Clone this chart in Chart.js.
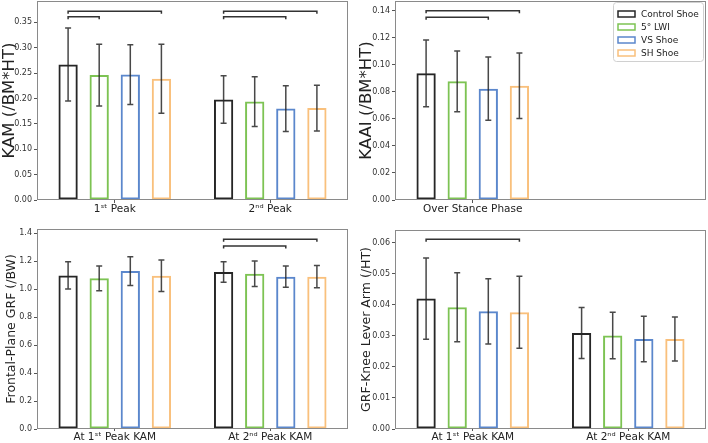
<!DOCTYPE html>
<html>
<head>
<meta charset="utf-8">
<script src="https://cdn.jsdelivr.net/npm/chart.js@4/dist/chart.umd.min.js"></script>
<style>
  html, body { margin: 0; padding: 0; background: #fff; }
  #wrap { position: relative; width: 708px; height: 443px; overflow: hidden; }
  .panel { position: absolute; }
</style>
</head>
<body>
<div id="wrap">
  <div class="panel" style="left:0;top:0;width:354px;height:222px"><canvas id="kamChart"></canvas></div>
  <div class="panel" style="left:354px;top:0;width:354px;height:222px"><canvas id="kaaiChart"></canvas></div>
  <div class="panel" style="left:0;top:222px;width:354px;height:221px"><canvas id="grfChart"></canvas></div>
  <div class="panel" style="left:354px;top:222px;width:354px;height:221px"><canvas id="leverChart"></canvas></div>
</div>
<script>
// Conditions (one dataset each)
const shoes = ['Control Shoe', '5° LWI', 'VS Shoe', 'SH Shoe'];
const shoeColors = ['#262626', '#7dc353', '#5b87cc', '#f9c07c'];

// KAM (/BM*HT)
const kamLabels = ['1ˢᵗ Peak', '2ⁿᵈ Peak'];
const kamMean = [[0.267, 0.198], [0.246, 0.194], [0.247, 0.180], [0.239, 0.181]];
const kamSd = [[0.072, 0.047], [0.061, 0.049], [0.059, 0.045], [0.068, 0.045]];
const kamTicks = [0, 0.05, 0.10, 0.15, 0.20, 0.25, 0.30, 0.35];
// [category, from shoe, to shoe, height]
const kamBrackets = [[0, 0, 3, 0.372], [0, 0, 1, 0.361], [1, 0, 3, 0.372], [1, 0, 2, 0.361]];

// KAAI (/BM*HT)
const kaaiLabels = ['Over Stance Phase', ''];
const kaaiMean = [[0.0937, null], [0.0878, null], [0.0823, null], [0.0845, null]];
const kaaiSd = [[0.0247, null], [0.0225, null], [0.0234, null], [0.0243, null]];
const kaaiTicks = [0, 0.02, 0.04, 0.06, 0.08, 0.10, 0.12, 0.14];
const kaaiBrackets = [[0, 0, 3, 0.140], [0, 0, 2, 0.1351]];

// Frontal-plane GRF (/BW)
const grfLabels = ['At 1ˢᵗ Peak KAM', 'At 2ⁿᵈ Peak KAM'];
const grfMean = [[1.097, 1.121], [1.076, 1.109], [1.128, 1.088], [1.095, 1.088]];
const grfSd = [[0.097, 0.073], [0.088, 0.091], [0.103, 0.076], [0.113, 0.079]];
const grfTicks = [0, 0.2, 0.4, 0.6, 0.8, 1.0, 1.2, 1.4];
const grfBrackets = [[1, 0, 3, 1.355], [1, 0, 2, 1.307]];

// GRF-knee lever arm (/HT)
const leverLabels = ['At 1ˢᵗ Peak KAM', 'At 2ⁿᵈ Peak KAM'];
const leverMean = [[0.0420, 0.0309], [0.0392, 0.0301], [0.0379, 0.0290], [0.0376, 0.0290]];
const leverSd = [[0.0131, 0.0082], [0.0111, 0.0075], [0.0105, 0.0073], [0.0116, 0.0071]];
const leverTicks = [0, 0.01, 0.02, 0.03, 0.04, 0.05, 0.06];
const leverBrackets = [[0, 0, 3, 0.0611]];

const FONT = "'DejaVu Sans', sans-serif";

// error bars, significance brackets, frame and (optionally) the legend box
const overlay = {
  id: 'overlay',
  afterDatasetsDraw(chart, args, opts) {
    const ctx = chart.ctx;
    const ys = chart.scales.y;
    const area = chart.chartArea;
    ctx.save();

    // error bars
    ctx.strokeStyle = 'rgba(40,40,40,0.85)';
    ctx.lineWidth = 1.5;
    chart.data.datasets.forEach((ds, i) => {
      chart.getDatasetMeta(i).data.forEach((bar, j) => {
        const m = ds.data[j];
        if (m == null) return;
        const top = ys.getPixelForValue(m + ds.sd[j]);
        const bot = ys.getPixelForValue(m - ds.sd[j]);
        ctx.beginPath();
        ctx.moveTo(bar.x, top); ctx.lineTo(bar.x, bot);
        ctx.moveTo(bar.x - 3, top); ctx.lineTo(bar.x + 3, top);
        ctx.moveTo(bar.x - 3, bot); ctx.lineTo(bar.x + 3, bot);
        ctx.stroke();
      });
    });

    // brackets
    ctx.strokeStyle = '#333';
    (opts.brackets || []).forEach(([cat, a, b, v]) => {
      const x1 = chart.getDatasetMeta(a).data[cat].x;
      const x2 = chart.getDatasetMeta(b).data[cat].x;
      const y = ys.getPixelForValue(v);
      ctx.beginPath();
      ctx.moveTo(x1, y + 2.5); ctx.lineTo(x1, y); ctx.lineTo(x2, y); ctx.lineTo(x2, y + 2.5);
      ctx.stroke();
    });

    // axes frame
    ctx.strokeStyle = '#8a8a8a';
    ctx.lineWidth = 1;
    ctx.strokeRect(area.left + 0.5, area.top + 0.5, area.right - area.left - 1, area.bottom - area.top - 1);

    // legend
    if (opts.legend) {
      const bw = 90, bh = 59;
      const bx = area.right - bw - 3, by = area.top + 1;
      ctx.fillStyle = 'rgba(255,255,255,0.9)';
      ctx.strokeStyle = '#d0d0d0';
      ctx.beginPath();
      ctx.roundRect(bx + 0.5, by + 0.5, bw, bh, 3);
      ctx.fill(); ctx.stroke();
      ctx.font = '9px ' + FONT;
      ctx.textBaseline = 'middle';
      ctx.textAlign = 'left';
      chart.data.datasets.forEach((ds, i) => {
        const cy = by + 12 + i * 13;
        ctx.strokeStyle = ds.borderColor;
        ctx.lineWidth = 1.5;
        ctx.strokeRect(bx + 5, cy - 3, 17, 6);
        ctx.fillStyle = '#222';
        ctx.fillText(ds.label, bx + 28, cy + 0.5);
      });
    }
    ctx.restore();
  }
};

function createChart(id, labels, means, sds, ticks, yMax, decimals, yTitle, titleSize, brackets, box) {
  const ctx = document.getElementById(id).getContext('2d');
  return new Chart(ctx, {
    type: 'bar',
    data: {
      labels: labels,
      datasets: shoes.map((name, i) => ({
        label: name,
        data: means[i],
        sd: sds[i],
        backgroundColor: 'rgba(255,255,255,0)',
        borderColor: shoeColors[i],
        borderWidth: 2,
        borderSkipped: false,
        categoryPercentage: 0.8,
        barPercentage: 0.62
      }))
    },
    options: {
      responsive: true,
      maintainAspectRatio: false,
      animation: false,
      layout: { padding: box.padding },
      plugins: {
        legend: { display: false },
        tooltip: { enabled: false },
        overlay: { brackets: brackets, legend: box.legend }
      },
      scales: {
        x: {
          grid: {
            display: true, drawOnChartArea: false, offset: false, tickLength: box.xTick,
            color: c => (labels[c.index] ? '#555' : 'rgba(0,0,0,0)')
          },
          border: { display: false },
          ticks: { color: '#222', font: { family: FONT, size: 10.5 }, padding: box.xPad, maxRotation: 0 },
          afterFit: s => { s.height = box.xHeight; s.paddingLeft = 0; s.paddingRight = 0; }
        },
        y: {
          min: 0,
          max: yMax,
          grid: { display: true, drawOnChartArea: false, tickLength: 3, color: '#555' },
          border: { display: false },
          ticks: {
            color: '#333', font: { family: FONT, size: 8 }, padding: 2,
            callback: v => v.toFixed(decimals)
          },
          afterBuildTicks: s => { s.ticks = ticks.map(v => ({ value: v })); },
          title: {
            display: true, text: yTitle, color: '#222',
            font: { family: FONT, size: titleSize }, padding: box.titlePad
          },
          afterFit: s => { s.width = box.yWidth; s.paddingTop = 0; s.paddingBottom = 0; }
        }
      }
    },
    plugins: [overlay]
  });
}

createChart('kamChart', kamLabels, kamMean, kamSd, kamTicks, 0.392, 2, 'KAM (/BM*HT)', 16.5, kamBrackets,
  { padding: { left: 0, top: 1, right: 6, bottom: 0 }, yWidth: 37, xHeight: 22, xTick: 3, xPad: 0, titlePad: { top: 0, bottom: 0 } });
createChart('kaaiChart', kaaiLabels, kaaiMean, kaaiSd, kaaiTicks, 0.1472, 2, 'KAAI (/BM*HT)', 16.5, kaaiBrackets,
  { padding: { left: 0, top: 1, right: 2, bottom: 0 }, yWidth: 41, xHeight: 22, xTick: 3, xPad: 0, titlePad: { top: 3, bottom: 0 }, legend: true });
createChart('grfChart', grfLabels, grfMean, grfSd, grfTicks, 1.4286, 1, 'Frontal-Plane GRF (/BW)', 12.5, grfBrackets,
  { padding: { left: 0, top: 7, right: 6, bottom: 0 }, yWidth: 37, xHeight: 14, xTick: 2, xPad: 0, titlePad: { top: 4, bottom: 0 } });
createChart('leverChart', leverLabels, leverMean, leverSd, leverTicks, 0.0641, 2, 'GRF-Knee Lever Arm (/HT)', 12.5, leverBrackets,
  { padding: { left: 0, top: 8, right: 2, bottom: 0 }, yWidth: 41, xHeight: 14, xTick: 2, xPad: 0, titlePad: { top: 5, bottom: 0 } });
</script>
</body>
</html>
